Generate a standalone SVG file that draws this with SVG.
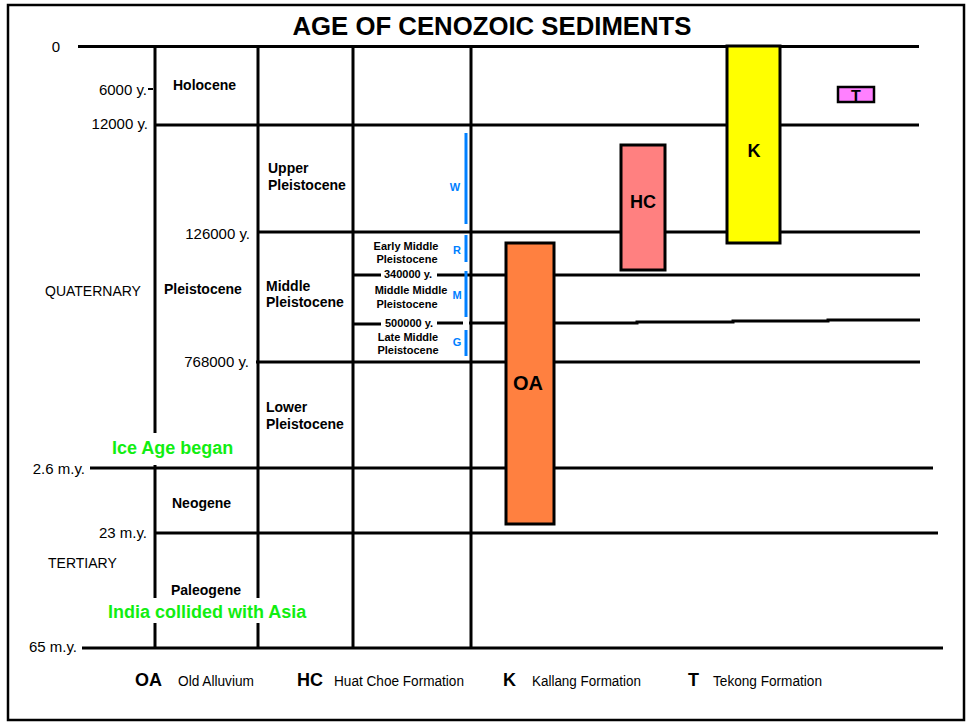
<svg xmlns="http://www.w3.org/2000/svg" width="969" height="723" viewBox="0 0 969 723">
<style>
.ln{stroke:#000;stroke-width:3;fill:none;stroke-linecap:butt}
.bl{stroke:#0080FF;stroke-width:3;fill:none}
.t{font-family:"Liberation Sans",Arial,sans-serif;fill:#000}
.r15{font-size:15px}
.r14{font-size:14px}
.b14{font-size:14px;font-weight:bold}
.b11{font-size:11px;font-weight:bold;text-anchor:middle}
.bt{font-size:11px;font-weight:bold;fill:#0080FF;text-anchor:middle}
.gr{font-size:18px;font-weight:bold;fill:#11EE11}
.box{stroke:#000;stroke-width:3}
.lg{font-size:14px}
.lgb{font-size:18px;font-weight:bold}
</style>
<rect x="0" y="0" width="969" height="723" fill="#fff"/>
<rect x="8" y="5" width="956" height="715" fill="none" stroke="#000" stroke-width="2.5"/>
<text class="t" x="492" y="35" font-size="25" font-weight="bold" text-anchor="middle" textLength="399" lengthAdjust="spacingAndGlyphs">AGE OF CENOZOIC SEDIMENTS</text>

<g id="grid">
<path class="ln" d="M78 46.5H919"/>
<path class="ln" d="M155 125H919"/>
<path class="ln" d="M258 232H920"/>
<path class="ln" d="M353 275H381M437 275H920"/>
<path class="ln" d="M353 324H381M437 323H463M469 323H637V322H733V321H828V320H920"/>
<path class="ln" d="M256 362H920"/>
<path class="ln" d="M90 468H933"/>
<path class="ln" d="M155 533H938"/>
<path class="ln" d="M82 648H943"/>
<path class="ln" d="M155 46V433M155 465V598M155 623V649"/>
<path class="ln" d="M258 45V598M258 623V649"/>
<path class="ln" d="M353 46V649"/>
<path class="ln" d="M471 46V649"/>
<path stroke="#000" stroke-width="2" d="M148 89H153"/>
</g>

<g id="time-labels">
<text class="t r15" x="60" y="52" text-anchor="end">0</text>
<text class="t r15" x="147" y="95" text-anchor="end">6000 y.</text>
<text class="t r15" x="148" y="129" text-anchor="end">12000 y.</text>
<text class="t r15" x="250" y="239" text-anchor="end">126000 y.</text>
<text class="t r15" x="249" y="367" text-anchor="end">768000 y.</text>
<text class="t r15" x="85" y="474" text-anchor="end">2.6 m.y.</text>
<text class="t r15" x="147" y="538" text-anchor="end">23 m.y.</text>
<text class="t r15" x="77" y="652" text-anchor="end">65 m.y.</text>
</g>

<g id="era-labels">
<text class="t r14" x="45" y="296">QUATERNARY</text>
<text class="t r14" x="48" y="568">TERTIARY</text>
<text class="t b14" x="173" y="90">Holocene</text>
<text class="t b14" x="164" y="294">Pleistocene</text>
<text class="t b14" x="172" y="508">Neogene</text>
<text class="t b14" x="171" y="595">Paleogene</text>
<text class="t b14" x="268" y="173">Upper</text>
<text class="t b14" x="268" y="190">Pleistocene</text>
<text class="t b14" x="266" y="291">Middle</text>
<text class="t b14" x="266" y="307">Pleistocene</text>
<text class="t b14" x="266" y="412">Lower</text>
<text class="t b14" x="266" y="429">Pleistocene</text>
<text class="t gr" x="112" y="454">Ice Age began</text>
<text class="t gr" x="108" y="618">India collided with Asia</text>
</g>

<g id="middle-pleistocene-labels">
<text class="t b11" x="406" y="250">Early Middle</text>
<text class="t b11" x="407" y="263">Pleistocene</text>
<text class="t b11" x="408" y="278">340000 y.</text>
<text class="t b11" x="411" y="294">Middle Middle</text>
<text class="t b11" x="407" y="308">Pleistocene</text>
<text class="t b11" x="409" y="327">500000 y.</text>
<text class="t b11" x="408" y="341">Late Middle</text>
<text class="t b11" x="408" y="354">Pleistocene</text>
</g>

<g id="glacials">
<path class="bl" d="M466 133V224M466 235V262M466 271V317M466 330V356"/>
<text class="t bt" x="455" y="191">W</text>
<text class="t bt" x="457" y="254">R</text>
<text class="t bt" x="457" y="299">M</text>
<text class="t bt" x="457" y="346">G</text>
</g>

<g id="OA">
<rect class="box" x="506" y="243" width="48" height="281" fill="#FF8040"/>
<text class="t" x="528" y="390" font-size="20" font-weight="bold" text-anchor="middle">OA</text>
</g>
<g id="HC">
<rect class="box" x="621" y="145" width="44" height="125" fill="#FF8080"/>
<text class="t" x="643" y="208" font-size="18" font-weight="bold" text-anchor="middle">HC</text>
</g>
<g id="K">
<rect class="box" x="727" y="46" width="53" height="197" fill="#FFFF00"/>
<text class="t" x="754" y="157" font-size="18" font-weight="bold" text-anchor="middle">K</text>
</g>
<g id="T">
<rect x="838" y="87" width="36" height="15" fill="#FF80FF" stroke="#000" stroke-width="2.5"/>
<text class="t" x="856" y="102" font-size="16" font-weight="bold" text-anchor="middle">T</text>
</g>

<g id="legend">
<text class="t lgb" x="135" y="686">OA</text>
<text class="t lg" x="178" y="686" textLength="76" lengthAdjust="spacingAndGlyphs">Old Alluvium</text>
<text class="t lgb" x="297" y="686">HC</text>
<text class="t lg" x="334" y="686" textLength="130" lengthAdjust="spacingAndGlyphs">Huat Choe Formation</text>
<text class="t lgb" x="503" y="686">K</text>
<text class="t lg" x="532" y="686" textLength="109" lengthAdjust="spacingAndGlyphs">Kallang Formation</text>
<text class="t lgb" x="688" y="686">T</text>
<text class="t lg" x="713" y="686" textLength="109" lengthAdjust="spacingAndGlyphs">Tekong Formation</text>
</g>
</svg>
